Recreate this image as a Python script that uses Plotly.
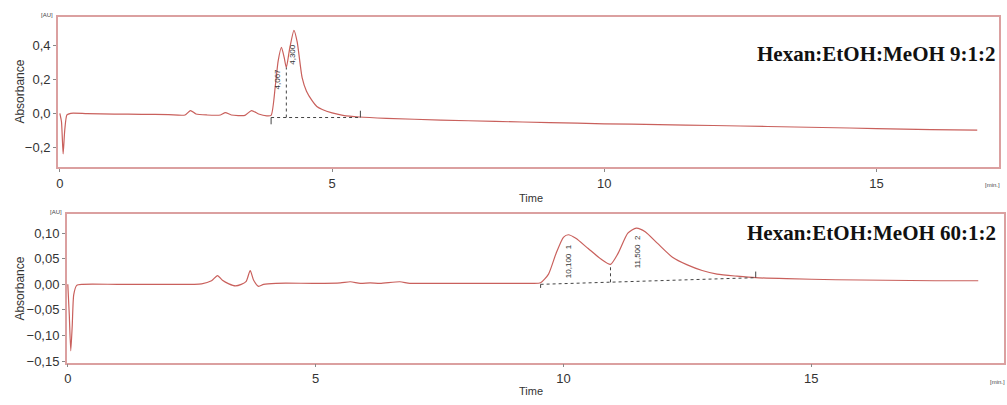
import plotly.graph_objects as go

# ---------- data: top chromatogram (Hexan:EtOH:MeOH 9:1:2) ----------
t1 = [0.00, 0.03, 0.06, 0.09, 0.13, 0.2, 0.5, 1.0, 1.5, 2.0, 2.3, 2.4, 2.5, 2.7, 2.95,
      3.04, 3.15, 3.4, 3.52, 3.65, 3.8, 3.88, 3.96, 4.01, 4.07, 4.12, 4.16, 4.22, 4.3,
      4.36, 4.45, 4.53, 4.63, 4.72, 4.82, 5.0, 5.2, 5.5, 6.0, 7.0, 8.0, 9.0, 10.0, 11.0,
      12.0, 13.0, 14.0, 15.0, 16.0, 16.85]
a1 = [0.00, -0.05, -0.24, -0.10, -0.01, 0.0, -0.002, -0.005, -0.006, -0.008, -0.01, 0.016,
      -0.004, -0.01, -0.01, 0.004, -0.01, -0.012, 0.016, -0.004, -0.015, -0.012, 0.17, 0.31,
      0.39, 0.33, 0.27, 0.38, 0.49, 0.42, 0.21, 0.13, 0.076, 0.04, 0.022, 0.002, -0.012,
      -0.022, -0.03, -0.04, -0.048, -0.055, -0.062, -0.067, -0.072, -0.078, -0.084, -0.09,
      -0.096, -0.10]

# integration markers (top)
base1_t = [3.88, 5.52]
base1_a = [-0.025, -0.025]
split1_t = [4.16, 4.16]
split1_a = [-0.025, 0.27]
peak1_labels = ["4,067", "4,300"]
peak1_lab_t = [3.99, 4.26]
peak1_lab_a = [0.20, 0.35]

# ---------- data: bottom chromatogram (Hexan:EtOH:MeOH 60:1:2) ----------
t2 = [0.0, 0.03, 0.06, 0.09, 0.12, 0.18, 0.3, 1.0, 2.0, 2.7, 2.9, 3.02, 3.12, 3.25, 3.38,
      3.5, 3.6, 3.68, 3.75, 3.85, 3.95, 4.2, 5.0, 5.5, 5.7, 5.9, 6.1, 6.3, 6.7, 6.9, 7.5,
      8.5, 9.3, 9.54, 9.7, 9.85, 10.0, 10.1, 10.25, 10.5, 10.75, 10.95, 11.1, 11.3, 11.47,
      11.65, 11.9, 12.2, 12.5, 12.8, 13.1, 13.5, 13.88, 14.5, 15.5, 16.5, 17.5, 18.37]
a2 = [0.0, -0.06, -0.13, -0.08, -0.02, -0.002, 0.0, 0.0, 0.0, 0.001, 0.007, 0.017, 0.008,
      0.001, -0.003, 0.0, 0.006, 0.027, 0.008, -0.004, 0.0, 0.002, 0.002, 0.003, 0.005,
      0.002, 0.003, 0.002, 0.005, 0.002, 0.002, 0.002, 0.002, 0.003, 0.02, 0.06, 0.092,
      0.097, 0.09, 0.07, 0.05, 0.039, 0.06, 0.1, 0.11, 0.103, 0.08, 0.053, 0.038, 0.027,
      0.02, 0.016, 0.013, 0.011, 0.009, 0.008, 0.007, 0.007]

base2_t = [9.54, 13.88]
base2_a = [0.0, 0.013]
split2_t = [10.95, 10.95]
split2_a = [0.004, 0.039]
peak2_labels = ["10,100  1", "11,500  2"]
peak2_lab_t = [10.1, 11.5]
peak2_lab_a = [0.046, 0.064]

titles = ["Hexan:EtOH:MeOH 9:1:2", "Hexan:EtOH:MeOH 60:1:2"]

LINE = "#c9605c"
FRAME = "#dba0a0"
TXT = "#333333"

fig = go.Figure()
fig.add_trace(go.Scatter(x=t1, y=a1, mode="lines", line=dict(color=LINE, width=1.2, shape="spline", smoothing=0.6),
                         xaxis="x", yaxis="y", showlegend=False))
fig.add_trace(go.Scatter(x=base1_t, y=base1_a, mode="lines", line=dict(color="#444", width=1, dash="dot"),
                         xaxis="x", yaxis="y", showlegend=False))
fig.add_trace(go.Scatter(x=split1_t, y=split1_a, mode="lines", line=dict(color="#444", width=1, dash="dot"),
                         xaxis="x", yaxis="y", showlegend=False))
fig.add_trace(go.Scatter(x=t2, y=a2, mode="lines", line=dict(color=LINE, width=1.2, shape="spline", smoothing=0.6),
                         xaxis="x2", yaxis="y2", showlegend=False))
fig.add_trace(go.Scatter(x=base2_t, y=base2_a, mode="lines", line=dict(color="#444", width=1, dash="dot"),
                         xaxis="x2", yaxis="y2", showlegend=False))
fig.add_trace(go.Scatter(x=split2_t, y=split2_a, mode="lines", line=dict(color="#444", width=1, dash="dot"),
                         xaxis="x2", yaxis="y2", showlegend=False))

# integration boundary ticks
fig.add_trace(go.Scatter(x=[base1_t[0], base1_t[0], None, base1_t[1], base1_t[1]],
                         y=[base1_a[0], base1_a[0] - 0.04, None, base1_a[1], base1_a[1] + 0.04],
                         mode="lines", line=dict(color="#444", width=1), xaxis="x", yaxis="y", showlegend=False))
fig.add_trace(go.Scatter(x=[base2_t[0], base2_t[0], None, base2_t[1], base2_t[1]],
                         y=[base2_a[0], base2_a[0] - 0.007, None, base2_a[1], base2_a[1] + 0.012],
                         mode="lines", line=dict(color="#444", width=1), xaxis="x2", yaxis="y2", showlegend=False))

small_font = dict(family="Arial, Liberation Sans", size=8, color="#333")
ann = []
for lab, tx, ay in zip(peak1_labels, peak1_lab_t, peak1_lab_a):
    ann.append(dict(x=tx, y=ay, xref="x", yref="y", text=lab, showarrow=False, textangle=-90,
                    xanchor="center", yanchor="middle", font=small_font))
for lab, tx, ay in zip(peak2_labels, peak2_lab_t, peak2_lab_a):
    ann.append(dict(x=tx, y=ay, xref="x2", yref="y2", text=lab, showarrow=False, textangle=-90,
                    xanchor="center", yanchor="middle", font=small_font))

W, H = 1007, 405
def px(x): return x / W
def py(y): return 1 - y / H

def pann(x, y, text, size, angle=0, xanchor="center", family="Arial, Liberation Sans", color=TXT):
    return dict(x=px(x), y=py(y), xref="paper", yref="paper", text=text, showarrow=False,
                textangle=angle, xanchor=xanchor, yanchor="middle",
                font=dict(family=family, size=size, color=color))

serif = "Liberation Serif, Times New Roman"
ann += [
    pann(998, 55, "<b>" + titles[0] + "</b>", 21, xanchor="right", family=serif, color="#111"),
    pann(998, 237, "<b>" + titles[1] + "</b>", 21, xanchor="right", family=serif, color="#111"),
    pann(44, 15, "[AU]", 6, color="#444"),
    pann(53, 215, "[AU]", 6, color="#444"),
    pann(992, 188, "[min.]", 6, color="#444"),
    pann(997, 388, "[min.]", 6, color="#444"),
    pann(530, 201, "Time", 11),
    pann(530, 397, "Time", 11),
    pann(17, 93, "Absorbance", 12, angle=-90),
    pann(17, 293, "Absorbance", 12, angle=-90),
]

axis_common = dict(showline=True, linecolor=FRAME, linewidth=1.5, mirror=True, showgrid=False, zeroline=False,
                   ticks="outside", ticklen=3, tickcolor="#888",
                   tickfont=dict(family="Arial, Liberation Sans", size=13, color=TXT))

fig.update_layout(
    width=W, height=H, margin=dict(l=0, r=0, t=0, b=0),
    paper_bgcolor="white", plot_bgcolor="white", separators=",.",
    xaxis=dict(domain=[px(55), px(999)], range=[-0.037, 17.25], tickvals=[0, 5, 10, 15], anchor="y", **axis_common),
    yaxis=dict(domain=[py(170), py(17)], range=[-0.32, 0.57], tickvals=[-0.2, 0.0, 0.2, 0.4], tickformat=".1f",
               anchor="x", **axis_common),
    xaxis2=dict(domain=[px(64), px(1004)], range=[-0.02, 18.89], tickvals=[0, 5, 10, 15], anchor="y2", **axis_common),
    yaxis2=dict(domain=[py(368), py(217)], range=[-0.153, 0.138],
                tickvals=[-0.15, -0.10, -0.05, 0.0, 0.05, 0.10], tickformat=".2f", anchor="x2", **axis_common),
    annotations=ann,
)

fig.write_html("out.html", config={"displayModeBar": False},
               post_script="document.body.style.margin='0';document.body.style.overflow='hidden';")
